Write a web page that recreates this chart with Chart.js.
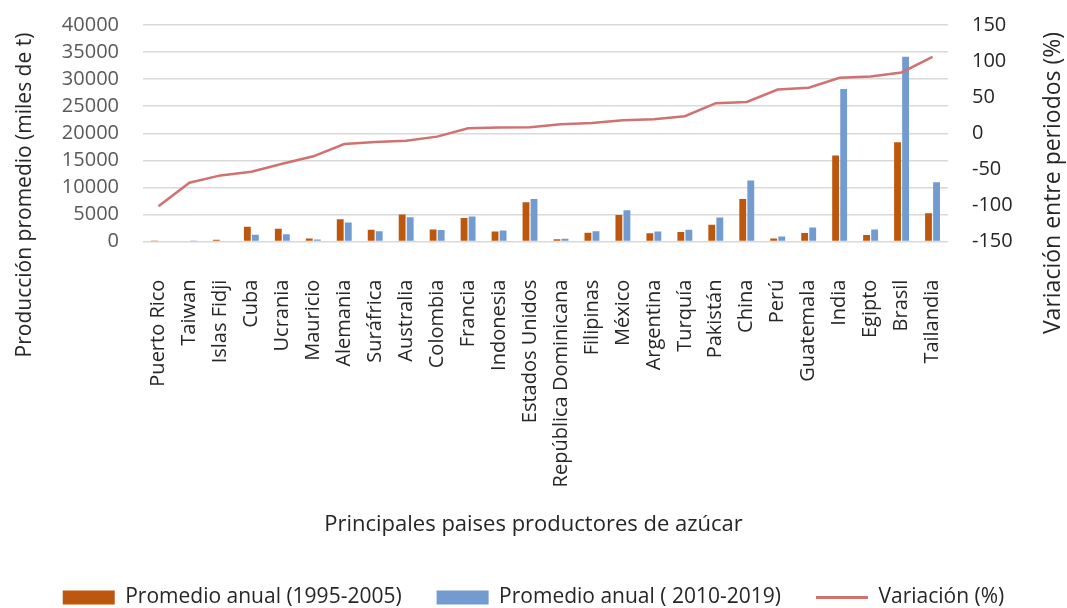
<!DOCTYPE html>
<html>
<head>
<meta charset="utf-8">
<script src="https://cdn.jsdelivr.net/npm/chart.js@4.4.1/dist/chart.umd.min.js"></script>
<style>
  html, body { margin: 0; padding: 0; background: #fff; }
</style>
</head>
<body>
<canvas id="c" width="1067" height="608"></canvas>
<script>
// Países productores de azúcar, ordenados por variación entre periodos
const paises = [
  'Puerto Rico', 'Taiwan', 'Islas Fidji', 'Cuba', 'Ucrania', 'Mauricio',
  'Alemania', 'Suráfrica', 'Australia', 'Colombia', 'Francia', 'Indonesia',
  'Estados Unidos', 'República Dominicana', 'Filipinas', 'México', 'Argentina',
  'Turquía', 'Pakistán', 'China', 'Perú', 'Guatemala', 'India', 'Egipto',
  'Brasil', 'Tailandia'
];

// Producción promedio anual (miles de t)
const promedio1995_2005 = [
  60, 150, 320, 2720, 2350, 560,
  4130, 2170, 5000, 2220, 4350, 1880,
  7250, 450, 1650, 4900, 1560,
  1760, 3130, 7850, 580, 1590, 15900, 1240,
  18330, 5240
];
const promedio2010_2019 = [
  0, 48, 135, 1270, 1360, 380,
  3510, 1910, 4490, 2120, 4650, 2030,
  7850, 506, 1890, 5780, 1860,
  2175, 4440, 11270, 930, 2590, 28200, 2220,
  34130, 10980
];

// Variación entre periodos (%)
const variacion = [
  -101, -68.5, -58.3, -53.2, -42.1, -31.9,
  -14.8, -12.0, -10.2, -4.6, 6.9, 7.9,
  8.3, 12.5, 14.4, 18.0, 19.4,
  23.6, 41.7, 43.5, 60.6, 63.0, 76.9, 78.7,
  84.3, 106
];

const FONT = '"Open Sans", "DejaVu Sans", sans-serif';

// Títulos de ejes verticales, leídos de abajo hacia arriba
const titulosVerticales = {
  id: 'titulosVerticales',
  afterDraw(chart) {
    const ctx = chart.ctx;
    ctx.save();
    ctx.fillStyle = '#262626';
    ctx.textAlign = 'center';
    ctx.textBaseline = 'middle';
    ctx.save();
    ctx.font = '21px ' + FONT;
    ctx.translate(25, 195);
    ctx.rotate(-Math.PI / 2);
    ctx.fillText('Producción promedio (miles de t)', 0, 0);
    ctx.restore();
    ctx.save();
    ctx.font = '23px ' + FONT;
    ctx.translate(1053, 183);
    ctx.rotate(-Math.PI / 2);
    ctx.fillText('Variación entre periodos (%)', 0, 0);
    ctx.restore();
    ctx.restore();
  }
};

// Ancho fijo de los ejes verticales, sin margen extra arriba/abajo
function ajustarEje(ancho) {
  return scale => {
    scale.width = ancho;
    scale.paddingTop = 0;
    scale.paddingBottom = 0;
  };
}

new Chart(document.getElementById('c'), {
  data: {
    labels: paises,
    datasets: [
      {
        type: 'line',
        label: 'Variación (%)',
        data: variacion,
        yAxisID: 'yVar',
        borderColor: '#D07272',
        backgroundColor: '#D07272',
        borderWidth: 2.5,
        pointRadius: 0,
        tension: 0,
        order: 0
      },
      {
        type: 'bar',
        label: 'Promedio anual (1995-2005)',
        data: promedio1995_2005,
        yAxisID: 'y',
        backgroundColor: '#BE570E',
        categoryPercentage: 0.52,
        barPercentage: 0.85,
        order: 1
      },
      {
        type: 'bar',
        label: 'Promedio anual ( 2010-2019)',
        data: promedio2010_2019,
        yAxisID: 'y',
        backgroundColor: '#729BCF',
        categoryPercentage: 0.52,
        barPercentage: 0.85,
        order: 1
      }
    ]
  },
  options: {
    responsive: false,
    animation: false,
    layout: { padding: { left: 5, right: 5, top: 25, bottom: -10 } },
    plugins: {
      tooltip: { enabled: false },
      title: {
        display: true,
        position: 'bottom',
        weight: 500,
        text: 'Principales paises productores de azúcar',
        font: { family: FONT, size: 22, weight: 'normal' },
        color: '#262626',
        padding: { top: 24, bottom: 14 }
      },
      legend: {
        position: 'bottom',
        labels: {
          font: { family: FONT, size: 21 },
          color: '#262626',
          usePointStyle: true,
          pointStyleWidth: 52,
          boxHeight: 14,
          padding: 35,
          sort: (a, b) => (a.datasetIndex === 0 ? 1 : 0) - (b.datasetIndex === 0 ? 1 : 0),
          generateLabels(chart) {
            const base = Chart.defaults.plugins.legend.labels.generateLabels(chart);
            return base.map(item => {
              const ds = chart.data.datasets[item.datasetIndex];
              if (ds.type === 'line') {
                return Object.assign(item, { pointStyle: 'line', lineWidth: 3, strokeStyle: ds.borderColor });
              }
              return Object.assign(item, { pointStyle: 'rect', lineWidth: 0, fillStyle: ds.backgroundColor });
            });
          }
        }
      }
    },
    scales: {
      x: {
        afterFit(scale) { scale.height = 246; },
        grid: { display: false },
        border: { display: false },
        ticks: {
          font: { family: FONT, size: 20 },
          color: '#262626',
          minRotation: 90,
          maxRotation: 90,
          autoSkip: false,
          padding: 30
        }
      },
      y: {
        position: 'left',
        min: 0,
        max: 40000,
        afterFit: ajustarEje(138),
        ticks: {
          stepSize: 5000,
          autoSkip: false,
          callback: v => String(v),
          font: { family: FONT, size: 20 },
          color: '#595959',
          padding: 24
        },
        grid: { color: '#D9D9D9', lineWidth: 1.5, drawTicks: false },
        border: { display: false }
      },
      yVar: {
        position: 'right',
        min: -150,
        max: 150,
        afterFit: ajustarEje(114),
        ticks: {
          stepSize: 50,
          autoSkip: false,
          callback: v => String(v),
          font: { family: FONT, size: 20 },
          color: '#262626',
          padding: 24
        },
        grid: { display: false, drawTicks: false },
        border: { display: false }
      }
    }
  },
  plugins: [titulosVerticales]
});
</script>
</body>
</html>
